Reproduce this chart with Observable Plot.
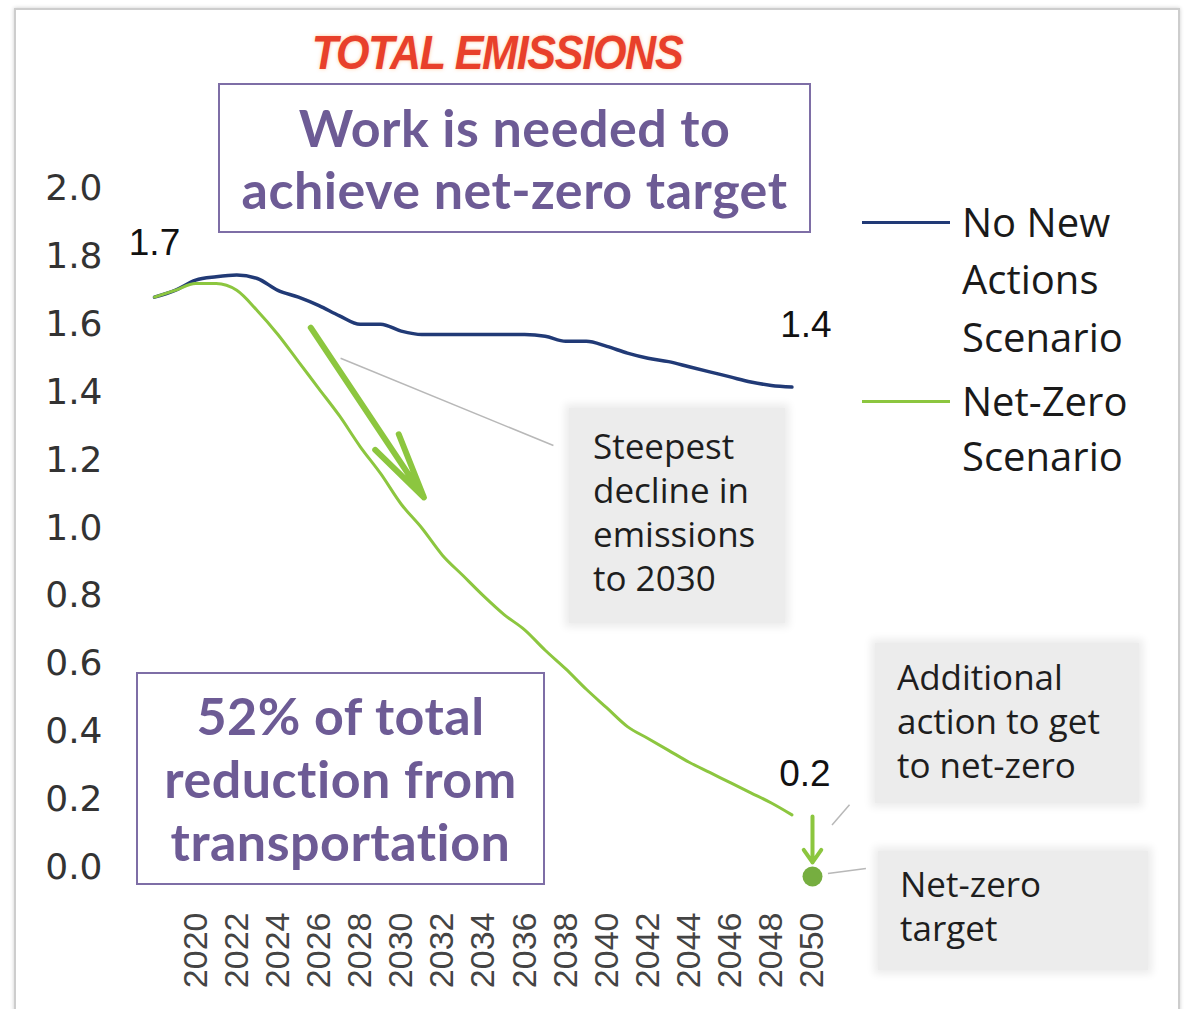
<!DOCTYPE html>
<html>
<head>
<meta charset="utf-8">
<script src="https://cdn.jsdelivr.net/npm/d3@7"></script>
<script src="https://cdn.jsdelivr.net/npm/@observablehq/plot@0.6"></script>
<style>
  body { margin: 0; background: #fff; }
  #wrap { position: relative; width: 1185px; height: 1009px; overflow: hidden; background: #fff; }
  #frame { position: absolute; left: 14px; top: 8px; width: 1162px; height: 1100px; border: 2px solid #cdcdcd; box-shadow: 0 0 4px rgba(0,0,0,0.2); }
  #chart { position: absolute; left: 0; top: 0; }
  .title { position: absolute; left: 247px; top: 22px; width: 500px; text-align: center;
           font-family: "Liberation Sans", sans-serif; font-style: italic; font-weight: bold;
           font-size: 49px; letter-spacing: -1.5px; color: #e8402b; text-shadow: 0 0 4px rgba(255,150,60,0.5);
           line-height: 60px; transform: scaleX(0.88); transform-origin: 250px 30px; }
  .pbox { position: absolute; border: 2px solid #7e6ea6; background: #fff; color: #6d5b95;
          font-family: Lato, "Open Sans", sans-serif; font-weight: 700; font-size: 52px; letter-spacing: 0.5px; text-align: center;
          display: flex; flex-direction: column; justify-content: center; box-sizing: border-box; }
  .gbox { position: absolute; background: #ececec; box-shadow: 0 0 8px 4px #ececec; color: #1e1e1e;
          font-family: "Open Sans", sans-serif; font-size: 35px; box-sizing: border-box; }
  .gbox div { height: 44px; line-height: 44px; white-space: nowrap; }
  .legend { position: absolute; font-family: "Open Sans", sans-serif; font-size: 40px; color: #1a1a1a; }
  .legend .row { position: absolute; left: 0; }
  .legend .sw { position: absolute; width: 88px; height: 0; }
</style>
</head>
<body>
<div id="wrap">
  <div id="frame"></div>
  <div id="chart"></div>
  <div class="title">TOTAL EMISSIONS</div>
  <div class="pbox" style="left:218px; top:83px; width:593px; height:150px; line-height:62px;">
    <div>Work is needed to</div><div>achieve net-zero target</div>
  </div>
  <div class="pbox" style="left:136px; top:672px; width:409px; height:213px; line-height:63px;">
    <div>52% of total</div><div>reduction from</div><div>transportation</div>
  </div>
  <div class="gbox" style="left:569px; top:408px; width:216px; height:215px; padding:16px 0 0 24px;">
    <div>Steepest</div><div>decline in</div><div>emissions</div><div>to 2030</div>
  </div>
  <div class="gbox" style="left:875px; top:643px; width:264px; height:160px; padding:12px 0 0 22px;">
    <div>Additional</div><div>action to get</div><div>to net-zero</div>
  </div>
  <div class="gbox" style="left:878px; top:851px; width:270px; height:119px; padding:11px 0 0 22px;">
    <div>Net-zero</div><div>target</div>
  </div>
  <div class="legend" id="legend" style="left:862px; top:0px; width:300px;"></div>
</div>
<script>
// ---- Data ----
const years = [2018, 2019, 2020, 2021, 2022, 2023, 2024, 2025, 2026, 2027, 2028, 2029, 2030, 2031, 2032, 2033,
               2034, 2035, 2036, 2037, 2038, 2039, 2040, 2041, 2042, 2043, 2044, 2045, 2046, 2047, 2048, 2049];
const noNewActions = [1.68, 1.70, 1.73, 1.74, 1.745, 1.735, 1.70, 1.68, 1.655, 1.625, 1.60, 1.60, 1.58, 1.57, 1.57, 1.57,
                      1.57, 1.57, 1.57, 1.565, 1.55, 1.55, 1.535, 1.515, 1.50, 1.49, 1.475, 1.46, 1.445, 1.43, 1.42, 1.415];
const netZero = [1.68, 1.70, 1.72, 1.72, 1.70, 1.64, 1.57, 1.49, 1.41, 1.33, 1.24, 1.16, 1.07, 1.00, 0.92, 0.86,
                 0.80, 0.745, 0.70, 0.64, 0.585, 0.525, 0.47, 0.415, 0.38, 0.345, 0.31, 0.28, 0.25, 0.22, 0.19, 0.155];
const seriesNames = ["No New Actions Scenario", "Net-Zero Scenario"];
const seriesColors = ["#213a76", "#8cc63f"];
const legendLines = [["No New", "Actions", "Scenario"], ["Net-Zero", "Scenario"]];
const xTicks = [2020, 2022, 2024, 2026, 2028, 2030, 2032, 2034, 2036, 2038, 2040, 2042, 2044, 2046, 2048, 2050];
const yTicks = [0, 0.2, 0.4, 0.6, 0.8, 1.0, 1.2, 1.4, 1.6, 1.8, 2.0];
const startLabel = [{year: 2018, value: 1.68, text: "1.7"}];
const endLabelNoNew = [{year: 2049, value: 1.415, text: "1.4"}];
const endLabelNetZero = [{year: 2049, value: 0.155, text: "0.2"}];
const netZeroTarget = [{year: 2050, value: 0}];
// annotation arrows and leader lines, in data units
const steepArrow = [{x1: 2025.6, y1: 1.59, x2: 2031.1, y2: 1.09}];
const targetArrow = [{x1: 2050, y1: 0.15, x2: 2050, y2: 0.015}];
const leaders = [
  {x1: 2027.05, y1: 1.50, x2: 2037.4, y2: 1.243},
  {x1: 2050.95, y1: 0.125, x2: 2051.8, y2: 0.185},
  {x1: 2050.75, y1: -0.018, x2: 2052.6, y2: -0.003}
];

const rows = [];
years.forEach((yr, i) => {
  rows.push({year: yr, value: noNewActions[i], series: seriesNames[0]});
  rows.push({year: yr, value: netZero[i], series: seriesNames[1]});
});

const plot = Plot.plot({
  width: 1185,
  height: 1009,
  marginLeft: 154,
  marginRight: 373,
  marginTop: 188,
  marginBottom: 142,
  x: {domain: [2018, 2050]},
  y: {domain: [0, 2]},
  style: {background: "transparent", overflow: "visible"},
  marks: [
    Plot.axisY({ticks: yTicks, tickFormat: d => d.toFixed(1), tickSize: 0, tickPadding: 52,
                fontSize: 36, fontFamily: "DejaVu Sans", fill: "#333", label: null}),
    Plot.axisX({ticks: xTicks, tickFormat: d => String(d), tickRotate: -90, tickSize: 0, tickPadding: 45,
                fontSize: 34, fontFamily: "Liberation Sans", fill: "#444", label: null}),
    Plot.link(leaders, {x1: "x1", y1: "y1", x2: "x2", y2: "y2", stroke: "#b8b8b8", strokeWidth: 1.5}),
    Plot.line(rows.filter(d => d.series === seriesNames[0]), {x: "year", y: "value", stroke: seriesColors[0], strokeWidth: 3.5, curve: "monotone-x"}),
    Plot.line(rows.filter(d => d.series === seriesNames[1]), {x: "year", y: "value", stroke: seriesColors[1], strokeWidth: 3, curve: "monotone-x"}),
    Plot.arrow(steepArrow, {x1: "x1", y1: "y1", x2: "x2", y2: "y2", stroke: "#8cc63f", strokeWidth: 6, headLength: 36, headAngle: 24}),
    Plot.arrow(targetArrow, {x1: "x1", y1: "y1", x2: "x2", y2: "y2", stroke: "#8cc63f", strokeWidth: 4, headLength: 16, headAngle: 70}),
    Plot.dot(netZeroTarget, {x: "year", y: "value", r: 10, fill: "#76ae40", dy: 9}),
    Plot.text(startLabel, {x: "year", y: "value", text: "text", dy: -54, fontSize: 37, fontFamily: "Liberation Sans", fill: "#111"}),
    Plot.text(endLabelNoNew, {x: "year", y: "value", text: "text", dx: 14, dy: -62, fontSize: 37, fontFamily: "Liberation Sans", fill: "#111"}),
    Plot.text(endLabelNetZero, {x: "year", y: "value", text: "text", dx: 13, dy: -41, fontSize: 37, fontFamily: "Liberation Sans", fill: "#111"})
  ]
});
document.getElementById("chart").appendChild(plot);

// legend (HTML)
const legend = document.getElementById("legend");
const legendTops = [[222, 279, 337], [401, 456]];
seriesNames.forEach((name, si) => {
  const sw = document.createElement("div");
  sw.className = "sw";
  sw.style.top = (legendTops[si][0] - 1) + "px";
  sw.style.borderTop = (si === 0 ? 3.5 : 3) + "px solid " + seriesColors[si];
  legend.appendChild(sw);
  legendLines[si].forEach((t, li) => {
    const r = document.createElement("div");
    r.className = "row";
    r.style.left = "100px";
    r.style.top = (legendTops[si][li] - 28) + "px";
    r.style.lineHeight = "56px";
    r.textContent = t;
    legend.appendChild(r);
  });
});
</script>
</body>
</html>
